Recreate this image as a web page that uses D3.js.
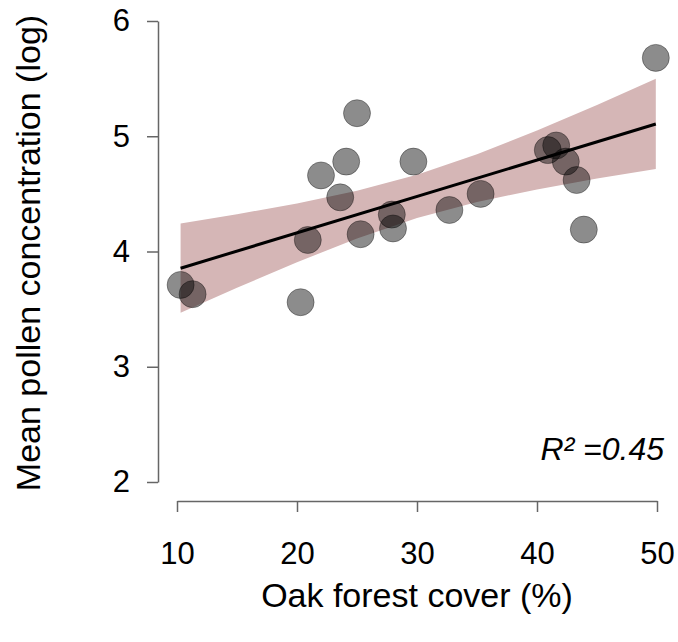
<!DOCTYPE html>
<html>
<head>
<meta charset="utf-8">
<script src="https://cdn.jsdelivr.net/npm/d3@7"></script>
<style>
  html, body { margin: 0; padding: 0; background: #fff; }
  svg { display: block; }
  text { font-family: "Liberation Sans", Arial, Helvetica, sans-serif; fill: #000; }
</style>
</head>
<body>
<svg id="chart" width="678" height="642"></svg>
<script>
// ---- data ----
const oakCover = [10.3, 11.3, 20.3, 20.9, 22.0, 23.6, 24.1, 25.0, 25.3, 27.9, 28.0, 29.7, 32.7, 35.3, 40.9, 41.6, 42.4, 43.3, 43.9, 49.9];
const pollenLog = [3.71, 3.63, 3.56, 4.10, 4.66, 4.47, 4.78, 5.20, 4.15, 4.32, 4.20, 4.78, 4.36, 4.50, 4.88, 4.92, 4.78, 4.62, 4.19, 5.68];

const fitX = [10.3, 49.9];
const fitY = [3.855, 5.106];

const bandX     = [10.3, 15, 20, 25, 30, 35, 40, 45, 49.9];
const bandLower = [3.468, 3.685, 3.907, 4.113, 4.290, 4.429, 4.539, 4.633, 4.716];
const bandUpper = [4.244, 4.323, 4.417, 4.527, 4.666, 4.843, 5.049, 5.271, 5.498];

const xTicks = [10, 20, 30, 40, 50];
const yTicks = [2, 3, 4, 5, 6];

const xTitle = "Oak forest cover (%)";
const yTitle = "Mean pollen concentration (log)";
const r2Label = "R\u00B2 =0.45";

// ---- drawing ----
const svg = d3.select("#chart");
const x = d3.scaleLinear().domain([10, 50]).range([177, 657]);
const y = d3.scaleLinear().domain([2, 6]).range([482, 21]);

// confidence band
const bandData = bandX.map((v, i) => ({x: v, lo: bandLower[i], hi: bandUpper[i]}));
svg.append("path")
  .datum(bandData)
  .attr("fill", "#d5b6b6")
  .attr("d", d3.area().x(d => x(d.x)).y0(d => y(d.lo)).y1(d => y(d.hi)));

// regression line
svg.append("path")
  .datum(fitX.map((v, i) => ({x: v, y: fitY[i]})))
  .attr("fill", "none")
  .attr("stroke", "#000")
  .attr("stroke-width", 3)
  .attr("d", d3.line().x(d => x(d.x)).y(d => y(d.y)));

// points
svg.append("g").selectAll("circle")
  .data(oakCover.map((v, i) => ({x: v, y: pollenLog[i]})))
  .join("circle")
  .attr("cx", d => x(d.x))
  .attr("cy", d => y(d.y))
  .attr("r", 13.5)
  .attr("fill", "rgba(0,0,0,0.45)")
  .attr("stroke", "rgba(0,0,0,0.35)")
  .attr("stroke-width", 1);

// axes
const yAxis = svg.append("g")
  .attr("transform", "translate(158,0)")
  .call(d3.axisLeft(y).tickValues(yTicks).tickFormat(d3.format("d")).tickSize(11).tickSizeOuter(0).tickPadding(17));
const xAxis = svg.append("g")
  .attr("transform", "translate(0,501)")
  .call(d3.axisBottom(x).tickValues(xTicks).tickFormat(d3.format("d")).tickSize(11).tickSizeOuter(0).tickPadding(30));

[yAxis, xAxis].forEach(g => {
  g.selectAll("path, line").attr("stroke", "#666").attr("stroke-width", 1.5);
  g.selectAll("text").attr("font-size", 31).attr("font-family", "Liberation Sans, Arial, sans-serif").attr("fill", "#000");
});

// titles
svg.append("text")
  .attr("x", 417).attr("y", 607)
  .attr("text-anchor", "middle")
  .attr("font-size", 34)
  .text(xTitle);

svg.append("text")
  .attr("transform", "translate(40,253) rotate(-90)")
  .attr("text-anchor", "middle")
  .attr("font-size", 34)
  .text(yTitle);

svg.append("text")
  .attr("x", 664).attr("y", 460)
  .attr("text-anchor", "end")
  .attr("font-size", 32)
  .attr("font-style", "italic")
  .text(r2Label);
</script>
</body>
</html>
